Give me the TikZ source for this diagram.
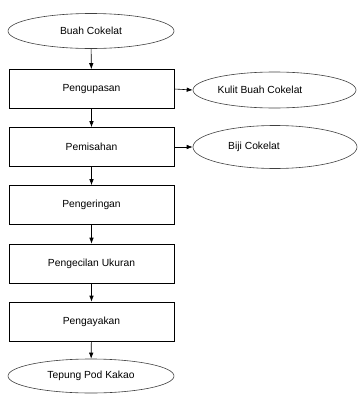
\documentclass[tikz,border=0pt]{standalone}
\usepackage{fontspec}
\setmainfont{Liberation Sans}
\usetikzlibrary{shapes.geometric,arrows.meta}
\begin{document}
\begin{tikzpicture}[x=1pt,y=-1pt,
  every node/.style={font=\fontsize{10.3}{12}\selectfont},
  oval/.style={draw=black!75, ellipse, line width=0.6pt, inner sep=0pt},
  proc/.style={draw=black, rectangle, line width=0.6pt, minimum width=165pt, minimum height=39pt, inner sep=0pt},
  txt/.style={inner sep=0pt},
  flow/.style={line width=0.6pt, -{Latex[length=6pt,width=4.5pt]}}
]
\useasboundingbox (0,0) rectangle (358,394);
\node[oval, minimum width=166pt, minimum height=35pt] (start) at (91,31) {Buah Cokelat};
\node[proc] (p1) at (91.5,89) {Pengupasan};
\node[proc] (p2) at (91.5,147) {Pemisahan};
\node[proc] (p3) at (91.5,205) {Pengeringan};
\node[proc] (p4) at (91.5,263.5) {Pengecilan Ukuran};
\node[proc] (p5) at (91.5,321.5) {Pengayakan};
\node[oval, minimum width=166pt, minimum height=34pt] (end) at (91,376) {Tepung Pod Kakao};
\node[oval, minimum width=163pt, minimum height=36pt] (kulit) at (274.5,90) {};
\node[txt] (kulitT) at (260,90) {Kulit Buah Cokelat};
\node[oval, minimum width=164pt, minimum height=43pt] (biji) at (275,147) {};
\node[txt] (bijiT) at (254,147) {Biji Cokelat};
\draw[flow] (start) -- (p1);
\draw[flow] (p1) -- (p2);
\draw[flow] (p2) -- (p3);
\draw[flow] (p3) -- (p4);
\draw[flow] (p4) -- (p5);
\draw[flow] (p5) -- (end);
\draw[flow] (p1.east) -- (kulit.west);
\draw[flow] (p2.east) -- (biji.west);
\end{tikzpicture}
\end{document}
